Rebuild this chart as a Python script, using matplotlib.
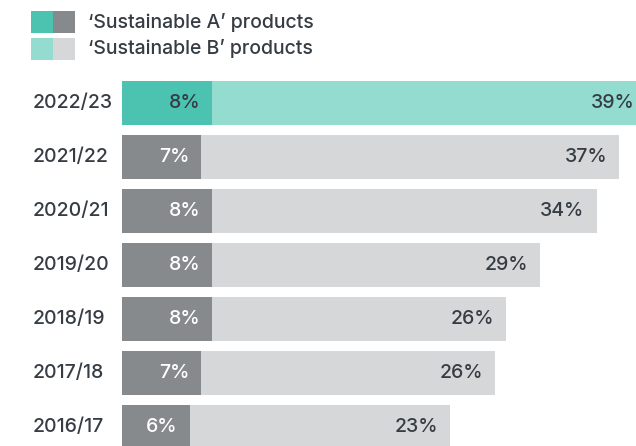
import matplotlib.pyplot as plt
from matplotlib.patches import Rectangle

years = ['2022/23', '2021/22', '2020/21', '2019/20', '2018/19', '2017/18', '2016/17']
a_vals = [8, 7, 8, 8, 8, 7, 6]
b_vals = [39, 37, 34, 29, 26, 26, 23]

teal_dark = '#4cc2b1'
teal_light = '#94dbd0'
grey_dark = '#878a8d'
grey_light = '#d6d7d9'
text_col = '#363c43'

W, H = 636, 446
fig = plt.figure(figsize=(W / 100, H / 100), dpi=100)
plt.rcParams['font.family'] = ['Inter', 'DejaVu Sans']
fs = 14


def fx(px):
    return px / W


def fy(py):
    return 1 - py / H


ax = fig.add_axes([fx(122), 0, fx(W - 122), 1])
xmax = (W - 122) / 11.3
ax.set_xlim(0, xmax)
# row centres sit 54 px apart, first one 103 px from the top
ax.set_ylim((H - 103) / 54, -103 / 54)
ax.axis('off')

pos = list(range(len(years)))
a_cols = [teal_dark] + [grey_dark] * (len(years) - 1)
b_cols = [teal_light] + [grey_light] * (len(years) - 1)
a_txt = [text_col] + ['white'] * (len(years) - 1)

ax.barh(pos, a_vals, height=44 / 54, color=a_cols, linewidth=0)
ax.barh(pos, b_vals, left=a_vals, height=44 / 54, color=b_cols, linewidth=0)

for i in pos:
    ax.annotate(f'{a_vals[i]}%', (a_vals[i], i), xytext=(-12, 0),
                textcoords='offset pixels', ha='right', va='center',
                fontsize=fs, fontweight='medium', color=a_txt[i],
                annotation_clip=False)
    end = min(a_vals[i] + b_vals[i], xmax)
    pad = -12 if end < xmax else -1
    ax.annotate(f'{b_vals[i]}%', (end, i), xytext=(pad, 0),
                textcoords='offset pixels', ha='right', va='center',
                fontsize=fs, fontweight='medium', color=text_col,
                annotation_clip=False)
    fig.text(fx(33), fy(103 + 54 * i), years[i], ha='left', va='center',
             fontsize=fs, fontweight='medium', color=text_col)

# legend swatches
for row, (c1, c2, label) in enumerate([
        (teal_dark, grey_dark, '\u2018Sustainable A\u2019 products'),
        (teal_light, grey_light, '\u2018Sustainable B\u2019 products')]):
    top = 11 + 27 * row
    fig.add_artist(Rectangle((fx(31), fy(top + 22)), fx(22), 22 / H,
                             color=c1, transform=fig.transFigure, lw=0))
    fig.add_artist(Rectangle((fx(53), fy(top + 22)), fx(22), 22 / H,
                             color=c2, transform=fig.transFigure, lw=0))
    fig.text(fx(88), fy(top + 11), label, ha='left', va='center',
             fontsize=fs, fontweight='medium', color=text_col)

fig.savefig('out.png', dpi=100)
